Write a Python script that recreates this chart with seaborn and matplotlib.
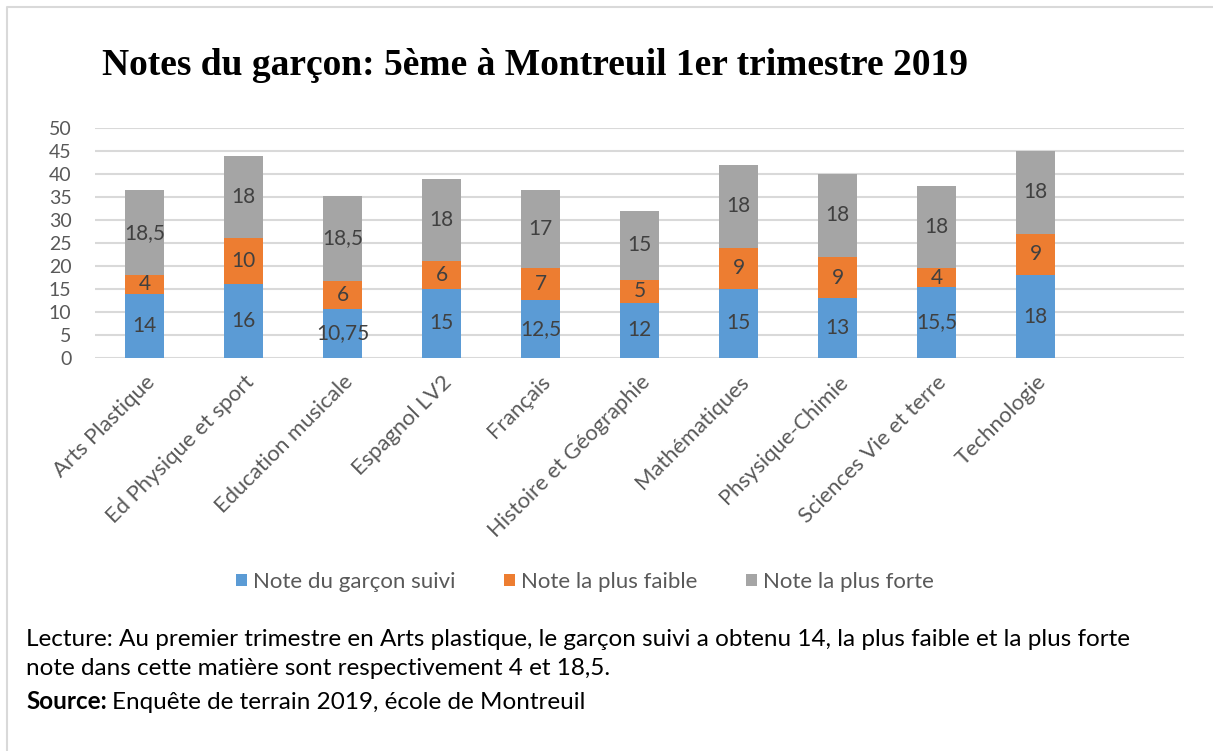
import matplotlib
matplotlib.use("Agg")
import matplotlib.pyplot as plt
import seaborn as sns
import pandas as pd
import numpy as np
from matplotlib.patches import Patch
from matplotlib.lines import Line2D

categories = ["Arts Plastique", "Ed Physique et sport", "Education musicale", "Espagnol LV2",
              "Français", "Histoire et Géographie", "Mathématiques", "Phsysique-Chimie",
              "Sciences Vie et terre", "Technologie"]
note_garcon = [14, 16, 10.75, 15, 12.5, 12, 15, 13, 15.5, 18]
note_faible = [4, 10, 6, 6, 7, 5, 9, 9, 4, 9]
note_forte = [18.5, 18, 18.5, 18, 17, 15, 18, 18, 18, 18]
series_names = ["Note du garçon suivi", "Note la plus faible", "Note la plus forte"]
y_ticks = [0, 5, 10, 15, 20, 25, 30, 35, 40, 45, 50]

colors = ["#5B9BD5", "#ED7D31", "#A5A5A5"]
FONT = "Lato"

sns.set_theme(style="white")
plt.rcParams["font.family"] = [FONT, "DejaVu Sans"]

fig = plt.figure(figsize=(12.13, 7.51), dpi=100)
ax = fig.add_axes([95/1213, 1-358/751, (1184-95)/1213, (358-128)/751])

g = np.array(note_garcon, dtype=float)
f = np.array(note_faible, dtype=float)
s = np.array(note_forte, dtype=float)
layers = [g, g + f, g + f + s]
df = pd.DataFrame({"cat": categories})

for top, col in zip(layers[::-1], colors[::-1]):
    sns.barplot(x=df["cat"], y=top, color=col, width=0.4, ax=ax,
                saturation=1, edgecolor="none", zorder=3)

def fmt(v):
    if float(v).is_integer():
        return str(int(v))
    return ("%g" % v).replace(".", ",")

bottoms = [np.zeros_like(g), g, g + f]
for vals, bot in zip([g, f, s], bottoms):
    for i, (v, b) in enumerate(zip(vals, bot)):
        ax.text(i, b + v / 2, fmt(v), ha="center", va="center",
                fontsize=15, color="#404040", zorder=5)

ax.set_xlim(-0.5, 10.5)
ax.set_ylim(0, 50)
ax.set_yticks(y_ticks)
ax.set_yticklabels([str(t) for t in y_ticks], fontsize=14, color="#595959")
ax.yaxis.grid(True, color="#D9D9D9", linewidth=1.5, zorder=0)
ax.set_axisbelow(True)
ax.set_xlabel("")
ax.set_ylabel("")
ax.tick_params(axis="y", length=0, pad=17)
ax.set_xticks(range(len(categories)))
ax.set_xticklabels(categories, rotation=45, ha="right", rotation_mode="anchor",
                   fontsize=15.8, color="#595959")
ax.tick_params(axis="x", length=0, pad=10)
for sp in ax.spines.values():
    sp.set_visible(False)

fig.text(102/1213, 1-75/751, "Notes du garçon: 5ème à Montreuil 1er trimestre 2019",
         fontsize=27, fontweight="bold", family="Liberation Serif", color="black",
         ha="left", va="baseline")

handles = [Patch(facecolor=c, edgecolor="none") for c in colors]
leg = fig.legend(handles, series_names, loc="center", bbox_to_anchor=(585/1213, 1-582/751),
                 ncol=3, frameon=False, fontsize=16, handlelength=0.5, handleheight=0.5,
                 handletextpad=0.25, columnspacing=2.2)
for t in leg.get_texts():
    t.set_color("#595959")

FS = 17.5
fig.text(26/1213, 1-646/751,
         "Lecture: Au premier trimestre en Arts plastique, le garçon suivi a obtenu 14, la plus faible et la plus forte",
         fontsize=FS, color="black", ha="left", va="baseline")
fig.text(26/1213, 1-675/751, "note dans cette matière sont respectivement 4 et 18,5.",
         fontsize=FS, color="black", ha="left", va="baseline")
t1 = fig.text(26/1213, 1-709/751, "Source:", fontsize=FS, color="black",
              fontweight="bold", ha="left", va="baseline")
fig.canvas.draw()
bb = t1.get_window_extent()
fig.text((bb.x1 + 5) / 1213, 1-709/751, "Enquête de terrain 2019, école de Montreuil",
         fontsize=FS, color="black", ha="left", va="baseline")

# frame: left and top edges only
fig.lines.append(Line2D([7/1213, 7/1213, 1.0], [0.0, 1-7/751, 1-7/751],
                        transform=fig.transFigure, color="#D9D9D9", linewidth=1.5))

fig.savefig("out.png", dpi=100, facecolor="white")
